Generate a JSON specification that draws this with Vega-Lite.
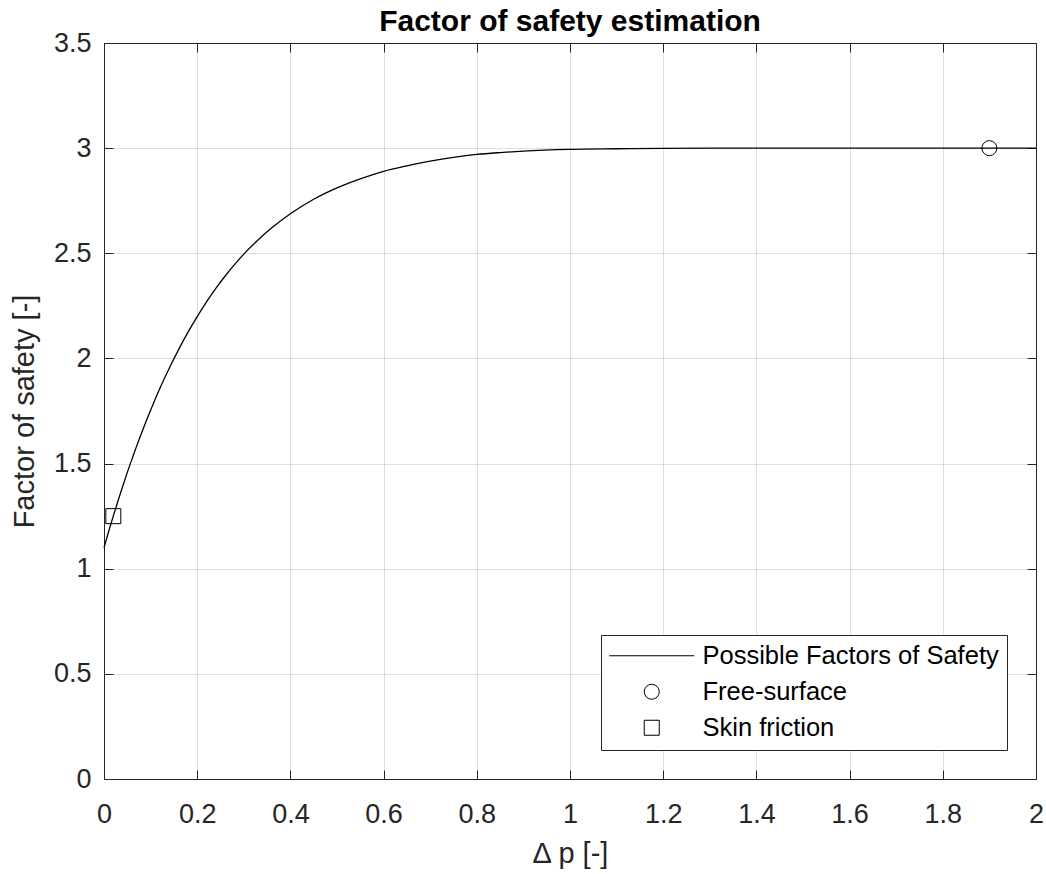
{
  "$schema": "https://vega.github.io/schema/vega-lite/v6.json",
  "width": 932,
  "height": 736,
  "autosize": {"type": "none"},
  "padding": {"left": 104, "top": 43, "right": 10, "bottom": 95},
  "background": "white",
  "config": {
    "font": "Liberation Sans",
    "view": {"stroke": null},
    "axis": {
      "domainColor": "#262626",
      "tickColor": "#262626",
      "labelColor": "#262626",
      "titleColor": "#262626",
      "labelFont": "Liberation Sans",
      "titleFont": "Liberation Sans",
      "titleFontWeight": "normal",
      "gridColor": "#262626",
      "gridOpacity": 0.15,
      "gridWidth": 1,
      "domainWidth": 1,
      "tickWidth": 1
    }
  },
  "title": {
    "text": "Factor of safety estimation",
    "fontSize": 30,
    "fontWeight": "bold",
    "color": "#000000",
    "font": "Liberation Sans",
    "anchor": "middle",
    "baseline": "bottom",
    "offset": 6,
    "dy": 44
  },
  "datasets": {
    "curve": [
      {"dp": 0, "fs": 1.100},
      {"dp": 0.01, "fs": 1.177},
      {"dp": 0.02, "fs": 1.251},
      {"dp": 0.03, "fs": 1.322},
      {"dp": 0.04, "fs": 1.391},
      {"dp": 0.05, "fs": 1.458},
      {"dp": 0.06, "fs": 1.521},
      {"dp": 0.07, "fs": 1.583},
      {"dp": 0.08, "fs": 1.642},
      {"dp": 0.09, "fs": 1.699},
      {"dp": 0.10, "fs": 1.754},
      {"dp": 0.12, "fs": 1.858},
      {"dp": 0.14, "fs": 1.953},
      {"dp": 0.16, "fs": 2.042},
      {"dp": 0.18, "fs": 2.124},
      {"dp": 0.20, "fs": 2.199},
      {"dp": 0.22, "fs": 2.269},
      {"dp": 0.24, "fs": 2.333},
      {"dp": 0.26, "fs": 2.392},
      {"dp": 0.28, "fs": 2.446},
      {"dp": 0.30, "fs": 2.496},
      {"dp": 0.33, "fs": 2.562},
      {"dp": 0.36, "fs": 2.621},
      {"dp": 0.40, "fs": 2.688},
      {"dp": 0.45, "fs": 2.757},
      {"dp": 0.50, "fs": 2.811},
      {"dp": 0.55, "fs": 2.854},
      {"dp": 0.60, "fs": 2.890},
      {"dp": 0.65, "fs": 2.916},
      {"dp": 0.70, "fs": 2.938},
      {"dp": 0.75, "fs": 2.956},
      {"dp": 0.80, "fs": 2.970},
      {"dp": 0.85, "fs": 2.979},
      {"dp": 0.90, "fs": 2.986},
      {"dp": 1.00, "fs": 2.994},
      {"dp": 1.10, "fs": 2.997},
      {"dp": 1.20, "fs": 2.999},
      {"dp": 1.40, "fs": 3.000},
      {"dp": 1.70, "fs": 3.000},
      {"dp": 2.00, "fs": 3.000}
    ],
    "markers": [
      {"dp": 1.9, "fs": 3.0, "series": "Free-surface"},
      {"dp": 0.02, "fs": 1.25, "series": "Skin friction"}
    ]
  },
  "layer": [
    {
      "data": {"name": "curve"},
      "mark": {"type": "line", "color": "#000000", "strokeWidth": 1.3, "interpolate": "monotone"},
      "encoding": {
        "x": {
          "field": "dp", "type": "quantitative",
          "scale": {"domain": [0, 2], "nice": false, "zero": false},
          "axis": {
            "orient": "bottom",
            "title": "Δ p [-]",
            "values": [0, 0.2, 0.4, 0.6, 0.8, 1, 1.2, 1.4, 1.6, 1.8, 2],
            "format": "~g",
            "grid": true,
            "tickSize": -9,
            "labelPadding": 31,
            "labelFontSize": 27,
            "titleFontSize": 29,
            "titlePadding": 12,
            "labelFlush": false
          }
        },
        "y": {
          "field": "fs", "type": "quantitative",
          "scale": {"domain": [0, 3.5], "nice": false, "zero": false},
          "axis": {
            "orient": "left",
            "title": "Factor of safety [-]",
            "values": [0, 0.5, 1, 1.5, 2, 2.5, 3, 3.5],
            "format": "~g",
            "grid": true,
            "tickSize": -9,
            "labelPadding": 22,
            "labelFontSize": 27,
            "titleFontSize": 29,
            "titlePadding": 14,
            "labelFlush": false
          }
        }
      }
    },
    {
      "data": {"name": "markers"},
      "mark": {"type": "point", "filled": false, "color": "#000000", "size": 225, "strokeWidth": 1, "opacity": 1},
      "encoding": {
        "x": {
          "field": "dp", "type": "quantitative",
          "axis": {"orient": "top", "title": null, "labels": false, "grid": false, "tickSize": -9,
                   "values": [0, 0.2, 0.4, 0.6, 0.8, 1, 1.2, 1.4, 1.6, 1.8, 2]}
        },
        "y": {
          "field": "fs", "type": "quantitative",
          "axis": {"orient": "right", "title": null, "labels": false, "grid": false, "tickSize": -9,
                   "values": [0, 0.5, 1, 1.5, 2, 2.5, 3, 3.5]}
        },
        "shape": {
          "field": "series", "type": "nominal",
          "scale": {
            "domain": ["Possible Factors of Safety", "Free-surface", "Skin friction"],
            "range": ["M-5.667,0H5.667", "circle", "square"]
          },
          "legend": {
            "title": null,
            "orient": "bottom-right",
            "offset": 29,
            "padding": 8,
            "strokeColor": "#262626",
            "fillColor": "#ffffff",
            "labelFontSize": 25.5,
            "labelLimit": 0,
            "labelColor": "#000000",
            "labelFont": "Liberation Sans",
            "symbolSize": 225,
            "symbolStrokeWidth": 1,
            "symbolStrokeColor": "#000000",
            "symbolFillColor": "transparent",
            "symbolOffset": 30,
            "labelOffset": 38,
            "rowPadding": 9
          }
        }
      }
    }
  ],
  "resolve": {"axis": {"x": "independent", "y": "independent"}}
}
